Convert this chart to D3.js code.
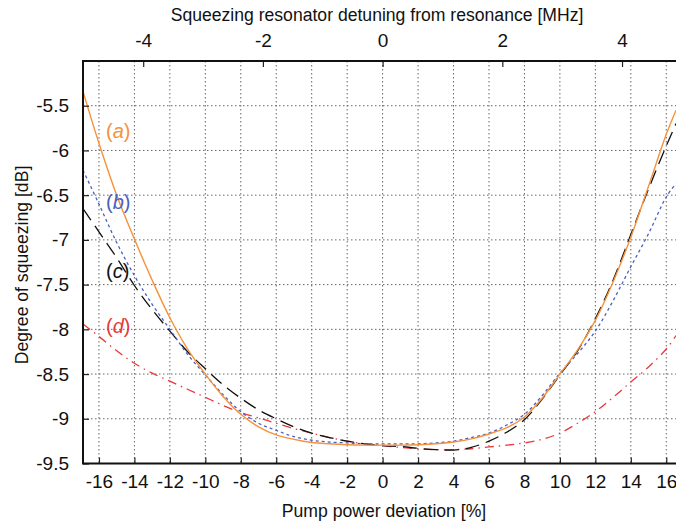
<!DOCTYPE html>
<html>
<head>
<meta charset="utf-8">
<script src="https://cdn.jsdelivr.net/npm/d3@7"></script>
<style>
  body { margin: 0; background: #fff; }
  svg { display: block; font-family: "Liberation Sans", Arial, sans-serif; }
</style>
</head>
<body>
<svg width="676" height="528"></svg>
<script>
// pump power deviation [%] where the curves were read
const xs = [-16.9, -16, -15, -14, -13, -12, -11, -10, -9, -8, -7, -6, -5, -4, -3, -2, -1,
            0, 1, 2, 3, 4, 5, 6, 7, 8, 9, 10, 11, 12, 13, 14, 15, 16, 16.55];

// degree of squeezing [dB], one array per curve
const curveA = [-5.34, -5.92, -6.50, -6.99, -7.45, -7.87, -8.22, -8.50, -8.75, -8.95, -9.09, -9.18, -9.23, -9.265, -9.28, -9.29, -9.295,
                -9.295, -9.295, -9.29, -9.28, -9.26, -9.225, -9.17, -9.10, -8.98, -8.77, -8.50, -8.23, -7.90, -7.47, -6.97, -6.40, -5.82, -5.55];
const curveB = [-6.22, -6.60, -7.03, -7.40, -7.72, -8.00, -8.28, -8.51, -8.73, -8.92, -9.05, -9.13, -9.20, -9.24, -9.26, -9.27, -9.28,
                -9.28, -9.28, -9.28, -9.27, -9.25, -9.21, -9.16, -9.07, -8.95, -8.74, -8.49, -8.27, -8.02, -7.68, -7.30, -6.93, -6.52, -6.37];
const curveC = [-6.65, -6.91, -7.20, -7.51, -7.78, -8.02, -8.25, -8.44, -8.62, -8.77, -8.90, -9.00, -9.09, -9.16, -9.21, -9.25, -9.28,
                -9.30, -9.31, -9.33, -9.345, -9.35, -9.32, -9.25, -9.15, -9.01, -8.78, -8.51, -8.24, -7.88, -7.45, -6.94, -6.43, -5.95, -5.70];
const curveD = [-7.94, -8.08, -8.24, -8.38, -8.49, -8.58, -8.67, -8.76, -8.85, -8.93, -8.99, -9.05, -9.11, -9.16, -9.21, -9.25, -9.28,
                -9.30, -9.32, -9.335, -9.345, -9.345, -9.335, -9.315, -9.295, -9.27, -9.23, -9.16, -9.05, -8.92, -8.76, -8.59, -8.42, -8.22, -8.07];

const seriesNames = ["a", "b", "c", "d"];
const labelY = [-5.8, -6.6, -7.37, -7.98]; // where the (a)..(d) labels sit, in dB
const labelX = -15.6;

const xTicks = d3.range(-16, 17, 2);
const yTicks = [-9.5, -9, -8.5, -8, -7.5, -7, -6.5, -6, -5.5];
const mhzTicks = [-4, -2, 0, 2, 4];
const MHZ_PER_PCT = 0.2962; // detuning that goes with one % of pump power

const svg = d3.select("svg");

const x = d3.scaleLinear().domain([-16.9, 17]).range([83, 684]);
const y = d3.scaleLinear().domain([-9.5, -5]).range([463.5, 61]);
const xTop = d3.scaleLinear().domain(x.domain().map(d => d * MHZ_PER_PCT)).range(x.range());

const plotL = 83, plotR = 676, plotT = 61, plotB = 463.5;

svg.append("defs").append("clipPath").attr("id", "clip")
  .append("rect").attr("x", plotL).attr("y", plotT).attr("width", plotR - plotL).attr("height", plotB - plotT);

// grid
const grid = svg.append("g").attr("stroke", "#666").attr("stroke-width", 1).attr("stroke-dasharray", "1.5,2.5");
grid.selectAll(".gx").data(xTicks).enter().append("line")
  .attr("x1", d => x(d)).attr("x2", d => x(d)).attr("y1", plotT).attr("y2", plotB);
grid.selectAll(".gy").data(yTicks.slice(1)).enter().append("line")
  .attr("x1", plotL).attr("x2", plotR).attr("y1", d => y(d)).attr("y2", d => y(d));

// curves
const line = d3.line().x(d => x(d[0])).y(d => y(d[1])).curve(d3.curveCatmullRom.alpha(0.5));
const curves = [
  { vals: curveA, color: "#f5923a", dash: null, w: 1.4 },
  { vals: curveB, color: "#4a60c0", dash: "3,3", w: 1.3 },
  { vals: curveC, color: "#111", dash: "14,7", w: 1.3 },
  { vals: curveD, color: "#e8393c", dash: "9,5,1.5,5", w: 1.3 }
];
const cg = svg.append("g").attr("clip-path", "url(#clip)");
// draw d first so a sits on top
curves.slice().reverse().forEach(c => {
  cg.append("path")
    .datum(xs.map((v, i) => [v, c.vals[i]]))
    .attr("fill", "none")
    .attr("stroke", c.color)
    .attr("stroke-width", c.w)
    .attr("stroke-dasharray", c.dash)
    .attr("d", line);
});

// curve labels
seriesNames.forEach((n, i) => {
  const t = svg.append("text")
    .attr("x", x(labelX)).attr("y", y(labelY[i]))
    .attr("font-size", 20).attr("fill", curves[i].color)
    .attr("dominant-baseline", "middle");
  t.append("tspan").text("(");
  t.append("tspan").attr("font-style", "italic").text(n);
  t.append("tspan").text(")");
});

const fmt = d => String(d);

// bottom axis
const gx = svg.append("g").attr("transform", `translate(0,${plotB})`)
  .call(d3.axisBottom(x).tickValues(xTicks).tickFormat(fmt).tickSize(-6).tickPadding(11));
// left axis
const gy = svg.append("g").attr("transform", `translate(${plotL},0)`)
  .call(d3.axisLeft(y).tickValues(yTicks).tickFormat(fmt).tickSize(-6).tickPadding(14));
// top axis
const gt = svg.append("g").attr("transform", `translate(0,${plotT})`)
  .call(d3.axisTop(xTop).tickValues(mhzTicks).tickFormat(fmt).tickSize(-6).tickPadding(14));

[gx, gy, gt].forEach(g => {
  g.select(".domain").remove();
  g.selectAll("line").attr("stroke", "#222").attr("stroke-width", 1.2);
  g.selectAll("text").attr("font-size", 19).attr("fill", "#111")
    .attr("font-family", "'Liberation Sans', Arial, sans-serif");
});

// frame
svg.append("path")
  .attr("d", `M${plotR + 10},${plotT} H${plotL} V${plotB} H${plotR + 10}`)
  .attr("fill", "none").attr("stroke", "#111").attr("stroke-width", 2);

// titles
svg.append("text").attr("x", 377).attr("y", 21).attr("text-anchor", "middle")
  .attr("font-size", 17.6).attr("fill", "#111")
  .text("Squeezing resonator detuning from resonance [MHz]");
svg.append("text").attr("x", 384).attr("y", 517).attr("text-anchor", "middle")
  .attr("font-size", 17.6).attr("fill", "#111")
  .text("Pump power deviation [%]");
svg.append("text").attr("transform", "translate(28,265) rotate(-90)").attr("text-anchor", "middle")
  .attr("font-size", 17.6).attr("fill", "#111")
  .text("Degree of squeezing [dB]");
</script>
</body>
</html>
